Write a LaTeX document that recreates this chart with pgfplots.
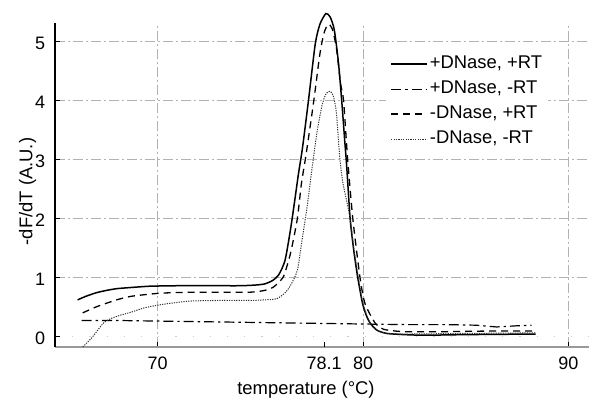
\documentclass[border=0pt]{standalone}
\usepackage{pgfplots}
\pgfplotsset{compat=1.18}
\usepackage{fontspec}
\setmainfont{Liberation Sans}
\begin{document}
\fontsize{9.2pt}{11pt}\selectfont
\begin{tikzpicture}
\path[use as bounding box] (0,0) rectangle (294.5pt,199.5pt);
\begin{axis}[
  at={(27.5pt,26pt)}, anchor=south west,
  scale only axis, width=267pt, height=162pt,
  xmin=65, xmax=91, ymin=-0.18, ymax=5.32,
  clip=false,
  axis x line=bottom, axis y line=left,
  axis line style={-},
  x axis line style={gray!80, line width=1pt},
  y axis line style={black, line width=0.6pt},
  xtick={70,80,90}, ytick={1,2,3,4,5},
  extra x ticks={78.1},
  extra x tick style={grid=none, xticklabel style={/pgf/number format/precision=1}},
  extra y ticks={0},
  extra y tick style={major grid style={gray!40, line width=0.4pt, dash pattern=on 0.6pt off 8pt}},
  tick align=inside, major tick length=2.5pt,
  tick style={black, line width=0.4pt},
  /pgf/number format/assume math mode=true,
  /pgf/number format/fixed,
  /pgf/number format/1000 sep={},
  grid=major,
  major grid style={gray!60, line width=0.4pt, dash pattern=on 5pt off 1.5pt on 1pt off 1.5pt},
  font=\fontsize{9.2pt}{11pt}\selectfont,
  tick label style={font=\fontsize{9pt}{11pt}\selectfont},
  xticklabel style={anchor=base, yshift=-11.5pt, inner sep=0pt},
  yticklabel style={anchor=east, xshift=-4.75pt, yshift=-1pt, inner sep=0pt},
  xlabel={temperature (°C)},
  ylabel={-dF/dT (A.U.)},
  xlabel style={at={(0.47,0)}, anchor=base, yshift=-23.65pt, inner sep=0pt},
  ylabel style={at={(-0.0515,0.48)}, anchor=center, inner sep=0pt},
  legend cell align=left,
  legend style={at={(0.6199,0.919)}, anchor=north west, draw=none, fill=white,
    inner sep=2pt, row sep=2pt,
    nodes={inner sep=1pt, text height=6.6pt, text depth=1.9pt},
    font=\fontsize{9.2pt}{11pt}\selectfont},
  legend image code/.code={\draw[#1] (0pt,0pt) -- (12.5pt,0pt); \path (0pt,0pt) -- (18pt,0pt);},
]
% +DNase, +RT
\addplot[black, line width=0.75pt, smooth, tension=0.4] coordinates {
(66.1,0.62) (66.5,0.68) (67.0,0.74) (67.5,0.78) (68.0,0.81) (68.7,0.83) (69.5,0.85) (70,0.855)
(71,0.86) (72,0.86) (73,0.86) (74,0.86) (74.7,0.87) (75.2,0.89) (75.6,0.95) (75.9,1.05)
(76.2,1.29) (76.46,1.8) (76.65,2.25) (76.85,2.75) (77.05,3.2) (77.34,4.0) (77.67,4.96)
(77.9,5.3) (78.19,5.48) (78.4,5.42) (78.6,5.2) (78.8,4.65) (78.96,4.0) (79.1,3.35)
(79.2,2.9) (79.37,2.0) (79.55,1.45) (79.74,1.0) (79.98,0.55) (80.2,0.32) (80.4,0.2)
(80.7,0.1) (81.15,0.05) (82,0.03) (83,0.02) (85,0.03) (88.4,0.04)
};
\addlegendentry{+DNase, +RT}
% +DNase, -RT
\addplot[black, line width=0.6pt, dash pattern=on 5pt off 2pt on 1.2pt off 2pt] coordinates {
(66.3,0.27) (68,0.27) (70,0.26) (72,0.25) (74,0.24) (76,0.23) (78,0.22) (80,0.21)
(82,0.2) (84,0.2) (85.5,0.19) (86.5,0.16) (87.5,0.18) (88.2,0.19)
};
\addlegendentry{+DNase, -RT}
% -DNase, +RT
\addplot[black, line width=0.65pt, dash pattern=on 3.5pt off 2.5pt, smooth, tension=0.4] coordinates {
(66.35,0.4) (67.0,0.5) (67.4,0.55) (68,0.62) (68.7,0.68) (70,0.73) (71,0.745) (72,0.75)
(73,0.75) (74.5,0.75) (75.2,0.78) (75.65,0.84) (76.1,1.0) (76.3,1.2) (76.5,1.46)
(76.8,2.0) (77.0,2.6) (77.23,3.1) (77.6,4.0) (77.9,4.8) (78.1,5.15) (78.3,5.3) (78.5,5.22)
(78.7,4.9) (78.9,4.3) (79.05,4.0) (79.25,3.0) (79.5,2.0) (79.85,1.0) (80.1,0.55)
(80.6,0.22) (81.0,0.12) (82,0.08) (84,0.08) (86,0.09) (88.4,0.09)
};
\addlegendentry{-DNase, +RT}
% -DNase, -RT
\addplot[black!80, line width=0.5pt, dash pattern=on 0.6pt off 0.6pt, smooth, tension=0.4] coordinates {
(66.35,-0.18) (66.8,-0.02) (67.4,0.24) (68,0.34) (68.7,0.41) (69.3,0.48) (70,0.53)
(70.8,0.57) (71.6,0.6) (73,0.61) (74.5,0.61) (75.2,0.62) (75.8,0.64) (76.2,0.74)
(76.46,0.86) (76.8,1.12) (77.0,1.57) (77.27,2.19) (77.5,2.81) (77.75,3.45) (78.0,3.92)
(78.2,4.12) (78.4,4.16) (78.55,4.08) (78.7,3.8) (78.85,3.1) (79.0,2.64) (79.2,2.3)
(79.37,2.0) (79.55,1.5) (79.77,1.0) (80.0,0.55) (80.35,0.22) (80.7,0.1) (81.2,0.05)
(82,0.04) (85,0.05) (88.4,0.06)
};
\addlegendentry{-DNase, -RT}
\end{axis}
\end{tikzpicture}
\end{document}
